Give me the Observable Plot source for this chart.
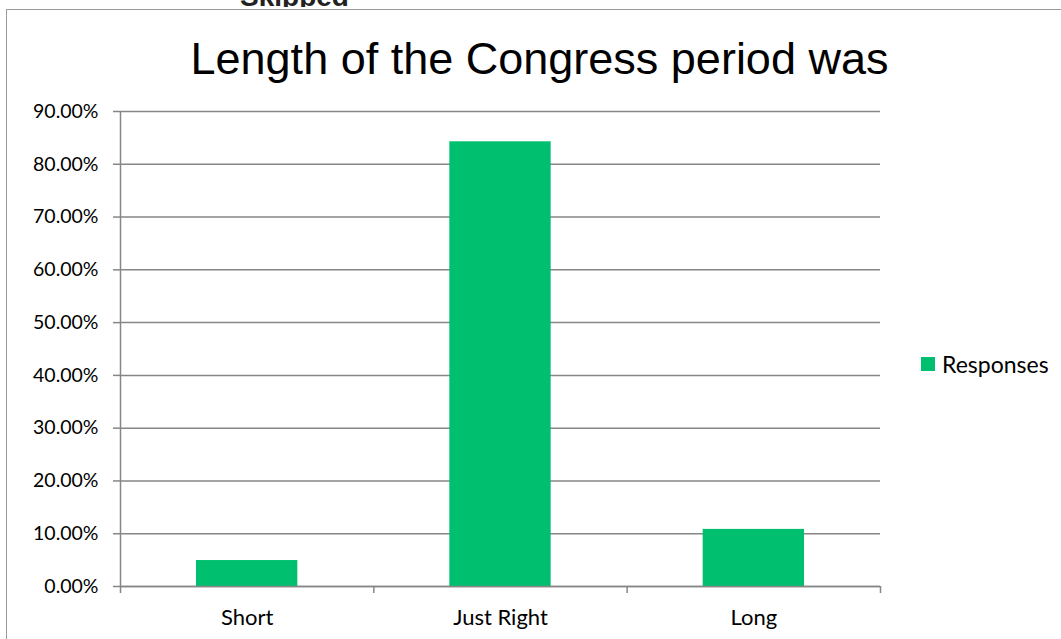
<!DOCTYPE html>
<html>
<head>
<meta charset="utf-8">
<script src="https://cdn.jsdelivr.net/npm/d3@7"></script>
<script src="https://cdn.jsdelivr.net/npm/@observablehq/plot@0.6"></script>
<style>
  html, body { margin: 0; padding: 0; background: #fff; }
  #page { position: relative; width: 1061px; height: 639px; overflow: hidden; font-family: Lato, "Open Sans", sans-serif; }
  #frame { position: absolute; left: 6px; top: 9px; width: 1100px; height: 700px; border-left: 1.5px solid #9a9a9a; border-top: 1.5px solid #9a9a9a; }
  #skipped { position: absolute; left: 0; top: 0; width: 1061px; height: 7px; overflow: hidden; }
  #skipped span { position: absolute; left: 240px; top: -19px; font-family: "Liberation Sans", Arial, sans-serif; font-weight: bold; font-size: 28px; line-height: 32px; color: #222; }
  #title { position: absolute; left: 9px; width: 1061px; top: 33px; text-align: center; font-family: "Liberation Sans", Arial, sans-serif; font-size: 45px; color: #000; line-height: 52px; }
  #chart { position: absolute; left: 0; top: 95px; }
  #legend { position: absolute; left: 921px; top: 350px; font-size: 23px; color: #000; display: flex; align-items: center; }
  #legend .sw { width: 14px; height: 14px; margin-right: 7px; }
</style>
</head>
<body>
<div id="page">
  <div id="skipped"><span>Skipped</span></div>
  <div id="frame"></div>
  <div id="title">Length of the Congress period was</div>
  <div id="chart"></div>
  <div id="legend"><div class="sw"></div><span id="legtext"></span></div>
</div>
<script>
const categories = ["Short", "Just Right", "Long"];
const responses = [0.0492, 0.8426, 0.1082];
const seriesName = "Responses";
const yTicks = [0, 0.1, 0.2, 0.3, 0.4, 0.5, 0.6, 0.7, 0.8, 0.9];

const green = "#00bf6f";
const gridColor = "#868686";

const data = categories.map((c, i) => ({cat: c, i, value: responses[i]}));
const boundaries = d3.range(categories.length + 1);
const centers = categories.map((c, i) => i + 0.5);

document.querySelector("#legend .sw").style.background = green;
document.getElementById("legtext").textContent = seriesName;

const chart = Plot.plot({
  width: 1061,
  height: 544,
  marginTop: 16,
  marginBottom: 53,
  marginLeft: 120,
  marginRight: 181,
  style: {fontFamily: "Lato, 'Open Sans', sans-serif", fontSize: "20px", color: "#000", background: "transparent"},
  x: {type: "linear", domain: [0, categories.length]},
  y: {domain: [0, 0.9]},
  marks: [
    Plot.gridY(yTicks, {stroke: gridColor, strokeOpacity: 1, strokeWidth: 1.5}),
    Plot.rectY(data, {x1: d => d.i + 0.3, x2: d => d.i + 0.7, y: "value", fill: green}),
    Plot.ruleX([0], {stroke: gridColor, strokeWidth: 1.5}),
    Plot.ruleY([0], {stroke: gridColor, strokeWidth: 1.5}),
    Plot.axisY({ticks: yTicks, tickFormat: d3.format(".2%"), tickSize: 7, tickPadding: 15, stroke: gridColor, strokeWidth: 1.5, label: null, fontSize: 19.5, fill: "#000"}),
    Plot.axisX({ticks: boundaries, tickFormat: () => "", tickSize: 7, stroke: gridColor, strokeWidth: 1.5, label: null}),
    Plot.axisX({ticks: centers, tickFormat: d => categories[Math.floor(d)], tickSize: 0, tickPadding: 23, label: null, fontSize: 22, fill: "#000"})
  ]
});
document.getElementById("chart").appendChild(chart);
</script>
</body>
</html>
